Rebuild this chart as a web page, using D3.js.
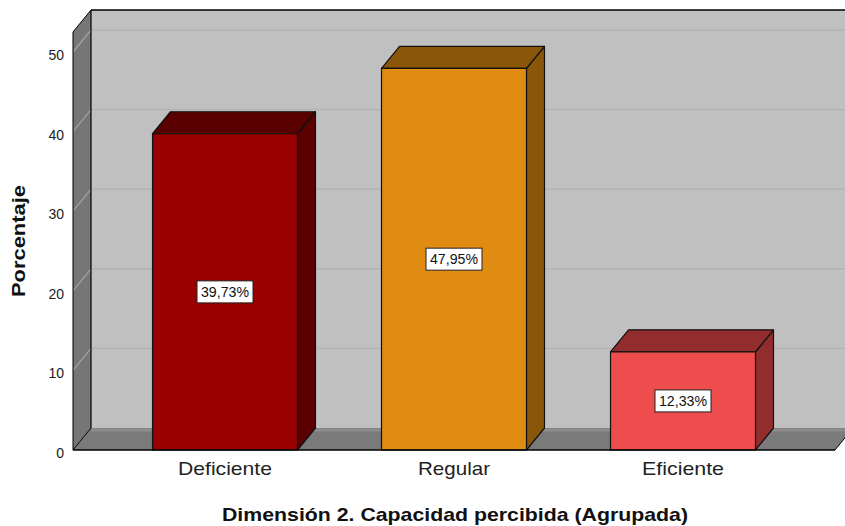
<!DOCTYPE html>
<html>
<head>
<meta charset="utf-8">
<script src="https://cdn.jsdelivr.net/npm/d3@7"></script>
<style>
  html, body { margin: 0; padding: 0; background: #ffffff; }
  svg { display: block; font-family: "Liberation Sans", Arial, sans-serif; }
</style>
</head>
<body>
<svg id="chart" width="845" height="526"></svg>
<script>
const categories = ["Deficiente", "Regular", "Eficiente"];
const values = [39.73, 47.95, 12.33];
const valueLabels = ["39,73%", "47,95%", "12,33%"];
const tickValues = [0, 10, 20, 30, 40, 50];
const frontColors = ["#990000", "#e08b12", "#ee4c4d"];
const darkColors = ["#5a0000", "#8a560a", "#922d2e"];
const categoryLabelWidths = [94, 72, 82];

const svg = d3.select("#chart");
const dx = 18, dy = -22;
const left = 73, floorY = 450, rightFront = 835, topBack = 10;

const y = d3.scaleLinear().domain([0, 50]).range([floorY, 52]);
const x = d3.scaleBand().domain(categories).range([110.5, 797.5])
  .paddingInner(0.367).paddingOuter(0.1835);

const g = svg.append("g");
const poly = pts => pts.map(p => p.join(",")).join(" ");

// back wall
g.append("polygon")
  .attr("points", poly([[left + dx, topBack], [860, topBack], [860, floorY + dy], [left + dx, floorY + dy]]))
  .attr("fill", "#c0c0c0");
// left wall
g.append("polygon")
  .attr("points", poly([[left, topBack - dy], [left + dx, topBack], [left + dx, floorY + dy], [left, floorY]]))
  .attr("fill", "#767676");
// floor
g.append("polygon")
  .attr("points", poly([[left, floorY], [left + dx, floorY + dy], [rightFront + dx, floorY + dy], [rightFront, floorY]]))
  .attr("fill", "#7a7a7a");

// gridlines
tickValues.forEach(t => {
  const yy = y(t);
  if (t > 0) {
    g.append("line").attr("x1", left + dx).attr("x2", 860)
      .attr("y1", yy + dy).attr("y2", yy + dy)
      .attr("stroke", "#b3b3b3").attr("stroke-width", 1.5);
    g.append("line").attr("x1", left).attr("x2", left + dx)
      .attr("y1", yy).attr("y2", yy + dy)
      .attr("stroke", "#a3a3a3").attr("stroke-width", 1.2);
  } else {
    g.append("line").attr("x1", left + dx).attr("x2", rightFront + dx)
      .attr("y1", yy + dy + 2).attr("y2", yy + dy + 2)
      .attr("stroke", "#8c8c8c").attr("stroke-width", 3);
  }
});

// outlines of frame
g.append("line").attr("x1", left + dx).attr("x2", 860).attr("y1", topBack).attr("y2", topBack)
  .attr("stroke", "#000").attr("stroke-width", 1.5);
g.append("line").attr("x1", left + dx).attr("x2", left + dx).attr("y1", topBack).attr("y2", floorY + dy)
  .attr("stroke", "#000").attr("stroke-width", 1.2);
g.append("polyline").attr("points", poly([[left, floorY], [left, topBack - dy], [left + dx, topBack]]))
  .attr("fill", "none").attr("stroke", "#000").attr("stroke-width", 1);
g.append("line").attr("x1", left).attr("x2", left + dx).attr("y1", floorY).attr("y2", floorY + dy)
  .attr("stroke", "#000").attr("stroke-width", 1);
g.append("line").attr("x1", rightFront).attr("x2", rightFront + dx).attr("y1", floorY).attr("y2", floorY + dy)
  .attr("stroke", "#000").attr("stroke-width", 1);

// bars
categories.forEach((c, i) => {
  const x0 = x(c), x1 = x(c) + x.bandwidth();
  const yt = y(values[i]), yb = y(0);
  const bg = g.append("g").attr("stroke", "#111").attr("stroke-width", 1.2).attr("stroke-linejoin", "round");
  bg.append("polygon").attr("points", poly([[x1, yt], [x1 + dx, yt + dy], [x1 + dx, yb + dy], [x1, yb]]))
    .attr("fill", darkColors[i]);
  bg.append("polygon").attr("points", poly([[x0, yt], [x0 + dx, yt + dy], [x1 + dx, yt + dy], [x1, yt]]))
    .attr("fill", darkColors[i]);
  bg.append("rect").attr("x", x0).attr("y", yt).attr("width", x1 - x0).attr("height", yb - yt)
    .attr("fill", frontColors[i]);

  const cx = (x0 + x1) / 2, cy = (yt + yb) / 2;
  const lw = 56, lh = 22;
  g.append("rect").attr("x", cx - lw / 2).attr("y", cy - lh / 2).attr("width", lw).attr("height", lh)
    .attr("fill", "#fff").attr("stroke", "#222").attr("stroke-width", 1);
  g.append("text").attr("x", cx).attr("y", cy).attr("dy", "0.36em")
    .attr("text-anchor", "middle").attr("font-size", 14).attr("fill", "#111")
    .attr("textLength", 48).attr("lengthAdjust", "spacingAndGlyphs")
    .text(valueLabels[i]);
});

// front floor edge
g.append("line").attr("x1", left).attr("x2", rightFront).attr("y1", floorY).attr("y2", floorY)
  .attr("stroke", "#000").attr("stroke-width", 1.5);

// y axis tick labels
const yAxis = d3.axisLeft(y).tickValues(tickValues).tickSize(0).tickPadding(9);
const ya = svg.append("g").attr("transform", `translate(${left},3)`).call(yAxis);
ya.select(".domain").remove();
ya.selectAll("text").attr("font-size", 14).attr("fill", "#222")
  .attr("font-family", "'Liberation Sans', Arial, sans-serif");

// x axis labels
const xAxis = d3.axisBottom(x).tickSize(0).tickPadding(12);
const xa = svg.append("g").attr("transform", `translate(0,${floorY})`).call(xAxis);
xa.select(".domain").remove();
xa.selectAll("text").attr("font-size", 19).attr("fill", "#222")
  .attr("font-family", "'Liberation Sans', Arial, sans-serif")
  .attr("textLength", (d, i) => categoryLabelWidths[i]).attr("lengthAdjust", "spacingAndGlyphs");

// axis titles
svg.append("text").attr("transform", "translate(25,241) rotate(-90)")
  .attr("text-anchor", "middle").attr("font-size", 18).attr("font-weight", "bold").attr("fill", "#111")
  .attr("textLength", 112).attr("lengthAdjust", "spacingAndGlyphs")
  .text("Porcentaje");
svg.append("text").attr("x", 455).attr("y", 521)
  .attr("text-anchor", "middle").attr("font-size", 18.5).attr("font-weight", "bold").attr("fill", "#111")
  .attr("textLength", 466).attr("lengthAdjust", "spacingAndGlyphs")
  .text("Dimensión 2. Capacidad percibida (Agrupada)");
</script>
</body>
</html>
